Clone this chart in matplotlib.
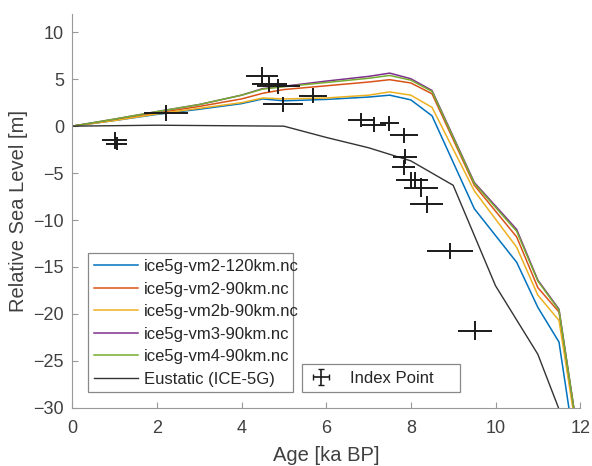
import numpy as np
import matplotlib
matplotlib.use("Agg")
import matplotlib.pyplot as plt

plt.rcParams['font.family'] = ['Liberation Sans', 'DejaVu Sans']

# model ages (ka BP)
ages = [0, 1, 2, 3, 4, 4.5, 5, 6, 7, 7.5, 8, 8.5, 9.5, 10.5, 11, 11.5, 12]

# relative sea level predictions (m)
vm2_120 = [0, 0.6, 1.25, 1.8, 2.4, 2.9, 2.7, 2.85, 3.1, 3.3, 2.8, 1.1, -8.8, -14.5, -19.3, -23.0, -38.0]
vm2_90 = [0, 0.65, 1.4, 2.1, 2.9, 3.5, 3.9, 4.3, 4.7, 4.95, 4.6, 3.45, -6.3, -11.8, -17.2, -19.8, -34.5]
vm2b_90 = [0, 0.6, 1.3, 1.9, 2.5, 3.0, 2.9, 3.0, 3.3, 3.65, 3.3, 2.0, -6.9, -12.9, -18.0, -20.7, -35.0]
vm3_90 = [0, 0.75, 1.55, 2.3, 3.3, 4.0, 4.25, 4.8, 5.3, 5.65, 5.05, 3.8, -6.0, -11.0, -16.4, -19.5, -34.5]
vm4_90 = [0, 0.75, 1.55, 2.3, 3.3, 3.95, 4.2, 4.65, 5.1, 5.4, 4.9, 3.7, -6.1, -11.2, -16.5, -19.6, -34.5]

# eustatic curve
eus_ages = [0, 2, 5, 6, 7, 8, 9, 10, 11, 12]
eustatic = [0, 0.1, 0, -1.2, -2.3, -3.7, -6.3, -17.0, -24.3, -36.0]

# index points
ip_age = [1.00, 1.05, 2.22, 4.49, 4.66, 4.87, 4.98, 5.68, 6.82, 7.13, 7.49, 7.83,
          7.87, 7.83, 8.00, 8.10, 8.24, 8.38, 8.93, 9.51]
ip_rsl = [-1.5, -1.85, 1.4, 5.3, 4.45, 4.25, 2.35, 3.25, 0.62, 0.17, 0.33, -0.95,
          -3.25, -4.4, -5.75, -5.75, -6.55, -8.3, -13.3, -21.8]
ip_age_err = [0.30, 0.25, 0.52, 0.38, 0.42, 0.50, 0.47, 0.33, 0.31, 0.28, 0.22, 0.33,
              0.28, 0.27, 0.34, 0.30, 0.41, 0.39, 0.55, 0.40]
ip_rsl_err = [0.9, 0.7, 0.85, 0.95, 0.8, 0.8, 0.8, 0.8, 0.75, 0.8, 0.8, 0.8,
              0.8, 0.8, 0.85, 0.85, 1.0, 0.9, 0.8, 1.0]

series = [("ice5g-vm2-120km.nc", vm2_120, "#0072BD"),
          ("ice5g-vm2-90km.nc", vm2_90, "#D95319"),
          ("ice5g-vm2b-90km.nc", vm2b_90, "#EDB120"),
          ("ice5g-vm3-90km.nc", vm3_90, "#7E2F8E"),
          ("ice5g-vm4-90km.nc", vm4_90, "#77AC30")]

txt = "#404040"
fig = plt.figure(figsize=(5.92, 4.66), dpi=100)
ax = fig.add_axes([0.122, 0.125, 0.858, 0.846])

lines = []
for name, vals, col in series:
    l, = ax.plot(ages, vals, color=col, lw=1.1, label=name)
    lines.append(l)
l, = ax.plot(eus_ages, eustatic, color="#333333", lw=1.0, label="Eustatic (ICE-5G)")
lines.append(l)

ax.errorbar(ip_age, ip_rsl, xerr=ip_age_err, yerr=ip_rsl_err, fmt="none",
            ecolor="#1a1a1a", elinewidth=1.4, capsize=0)
eb = ax.errorbar([np.nan], [np.nan], xerr=[1], yerr=[1], fmt="none",
                 ecolor="#1a1a1a", elinewidth=1.2, capsize=2.5, label="Index Point")

ax.set_xlim(0, 12)
ax.set_ylim(-30, 12)
ax.set_xticks(range(0, 13, 2))
ax.set_yticks(range(-30, 11, 5))
for s in ["top", "right"]:
    ax.spines[s].set_visible(False)
for s in ["left", "bottom"]:
    ax.spines[s].set_color("#999999")
ax.tick_params(direction="in", length=4, colors="#999999", labelcolor=txt,
               labelsize=13)
ax.tick_params(axis="x", pad=9)
ax.tick_params(axis="y", pad=6)
ax.set_xlabel("Age [ka BP]", fontsize=14.5, color=txt, labelpad=6)
ax.set_ylabel("Relative Sea Level [m]", fontsize=14.5, color=txt, labelpad=4)

leg1 = ax.legend(handles=lines, loc="lower left",
                 bbox_to_anchor=(0.032, 0.039, 0.403, 0.1), mode="expand",
                 borderaxespad=0, fontsize=12, fancybox=False, framealpha=1,
                 edgecolor="#888888", handlelength=2.6, handletextpad=0.4,
                 labelspacing=0.45, borderpad=0.35, labelcolor="#262626")
leg1.get_frame().set_linewidth(0.9)
ax.add_artist(leg1)
leg2 = ax.legend(handles=[eb], loc="lower left",
                 bbox_to_anchor=(0.452, 0.039, 0.311, 0.05), mode="expand",
                 borderaxespad=0, fontsize=12, fancybox=False, framealpha=1,
                 edgecolor="#888888", handlelength=1.5, handletextpad=1.0,
                 borderpad=0.4, labelcolor="#262626")
leg2.get_frame().set_linewidth(0.9)

fig.savefig("out.png", dpi=100, facecolor="white")
